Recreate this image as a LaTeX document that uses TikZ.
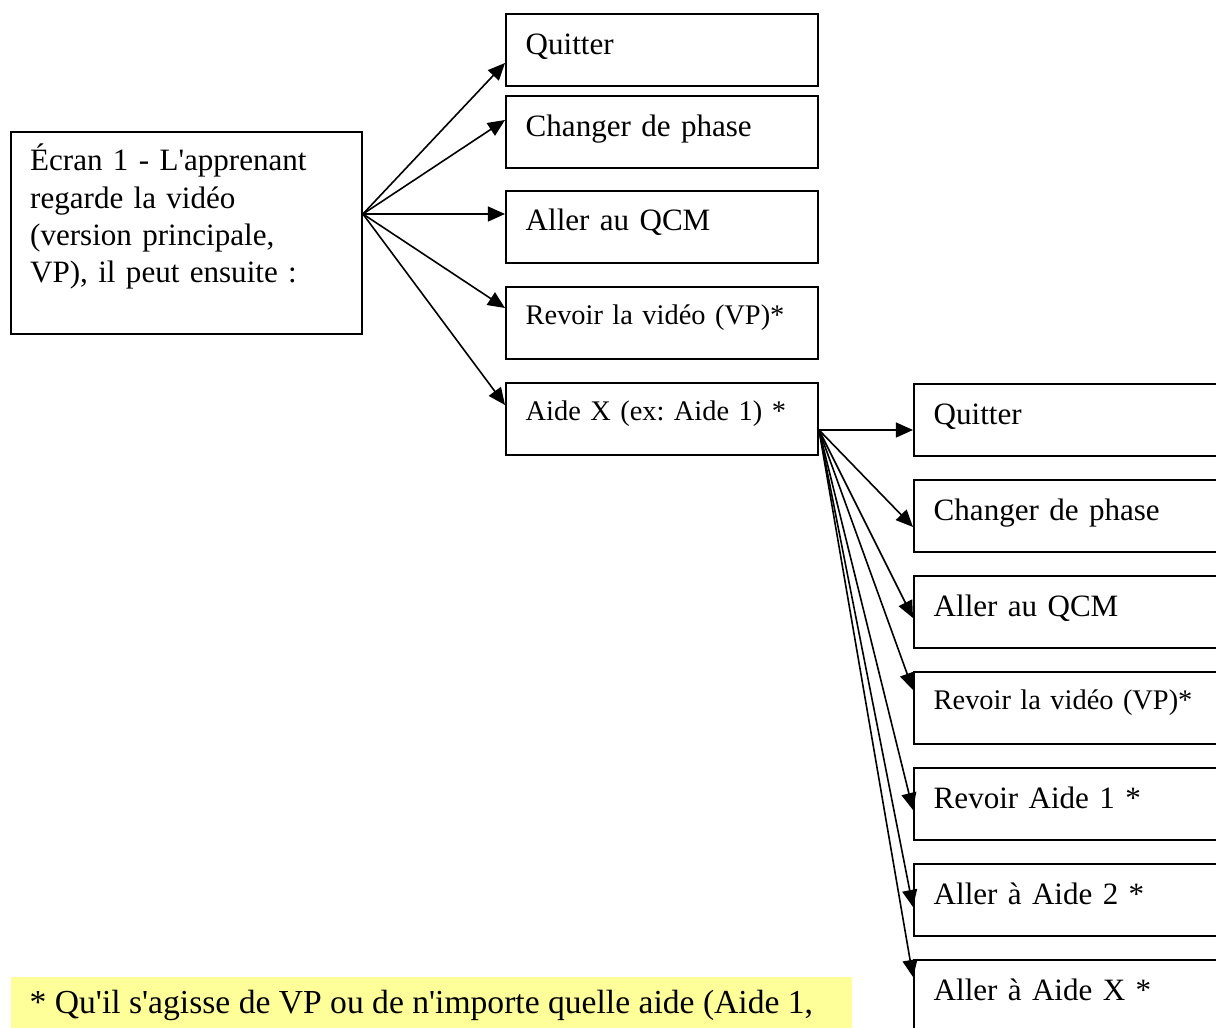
\documentclass[tikz,border=0pt]{standalone}
\usepackage{fontspec}
\setmainfont{Liberation Serif}
\usetikzlibrary{arrows.meta,calc}
\definecolor{noteyellow}{HTML}{FFFF99}
\newcommand{\apos}{\textquotesingle}

\begin{document}
\frenchspacing
\begin{tikzpicture}[
  x=0.375pt, y=-0.375pt,
  >={Triangle[length=6.4pt,width=5.6pt]},
  box/.style={draw,line width=0.75pt,anchor=north west,inner xsep=7.4pt,inner ysep=0pt,
    minimum width=117pt,minimum height=27pt,text width=102.2pt,align=left,
    text height=15pt,text depth=12pt,font=\fontsize{11.65}{14}\selectfont},
  sbox/.style={box,text height=13.9pt,text depth=13.1pt,font=\fontsize{10.65}{13}\selectfont},
  arr/.style={->,line width=0.6pt}
]
\useasboundingbox (0,0) rectangle (1216,1028);
\clip (0,0) rectangle (1216,1028);
% first screen
\node[box,inner xsep=7.2pt,minimum width=131.6pt,text width=117.2pt,
  text height=14.6pt,text depth=61.1pt] (ecran) at (10,131)
  {Écran 1 - L\apos apprenant\\ regarde la vidéo\\ (version principale,\\ VP), il peut ensuite :};
% choices after the video
\node[box]  (mq)    at (505,13)  {Quitter};
\node[box]  (mc)    at (505,95)  {Changer de phase};
\node[box]  (mqcm)  at (505,190) {Aller au QCM};
\node[sbox] (mrv)   at (505,286) {Revoir la vidéo (VP)*};
\node[sbox] (maide) at (505,382) {Aide X (ex: Aide 1) *};
% choices after a help screen
\node[box,inner xsep=6.8pt]  (rq)   at (913,383) {Quitter};
\node[box,inner xsep=6.8pt]  (rc)   at (913,479) {Changer de phase};
\node[box,inner xsep=6.8pt]  (rqcm) at (913,575) {Aller au QCM};
\node[sbox,inner xsep=6.8pt] (rrv)  at (913,671) {Revoir la vidéo (VP)*};
\node[box,inner xsep=6.8pt]  (rra1) at (913,767) {Revoir Aide 1 *};
\node[box,inner xsep=6.8pt]  (raa2) at (913,863) {Aller à Aide 2 *};
\node[box,inner xsep=6.8pt]  (raax) at (913,959) {Aller à Aide X *};
% first fan
\coordinate (f1) at ($(ecran.north east)+(0,83)$);
\draw[arr] (f1) -- ($(mq.north west)+(0,50)$);
\draw[arr] (f1) -- ($(mc.north west)+(0,25)$);
\draw[arr] (f1) -- ($(mqcm.north west)+(0,24)$);
\draw[arr] (f1) -- ($(mrv.north west)+(0,22)$);
\draw[arr] (f1) -- ($(maide.north west)+(0,23)$);
% second fan
\coordinate (f2) at ($(maide.north east)+(0,48)$);
\draw[arr] (f2) -- ($(rq.north west)+(0,47)$);
\draw[arr] (f2) -- ($(rc.north west)+(0,48)$);
\draw[arr] (f2) -- ($(rqcm.north west)+(0,43)$);
\draw[arr] (f2) -- ($(rrv.north west)+(0,19)$);
\draw[arr] (f2) -- ($(rra1.north west)+(0,43)$);
\draw[arr] (f2) -- ($(raa2.north west)+(0,44)$);
\draw[arr] (f2) -- ($(raax.north west)+(0,18)$);
% footnote
\node[anchor=north west,fill=noteyellow,inner xsep=7.2pt,inner ysep=0pt,
  text height=13.9pt,text depth=10pt,
  font=\fontsize{12.6}{15}\selectfont] (note) at (10,976)
  {\makebox[301pt][l]{* Qu\apos il s\apos agisse de VP ou de n\apos importe quelle aide (Aide 1,}};
\end{tikzpicture}
\end{document}
